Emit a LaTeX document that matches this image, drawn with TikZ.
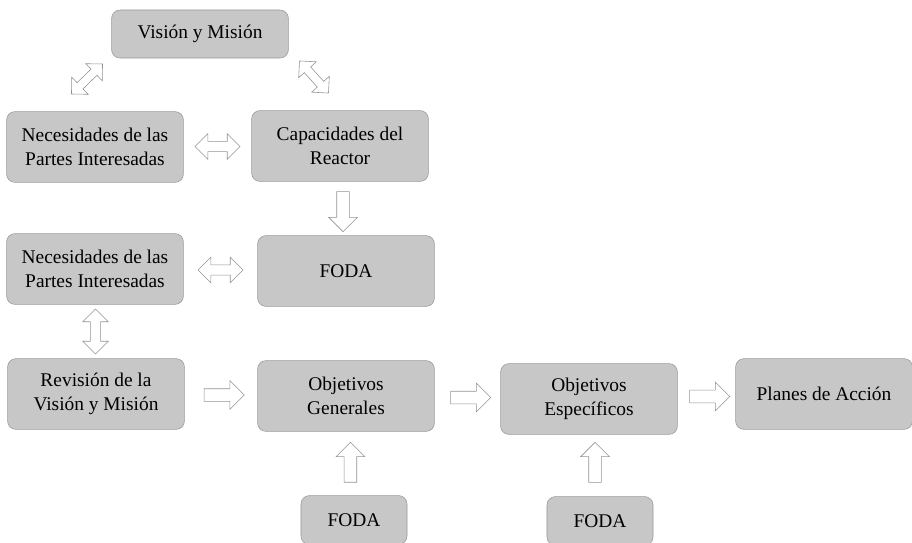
\documentclass[tikz,border=0pt]{standalone}
\usepackage{fontspec}
\setmainfont{Liberation Serif}
\usepackage{tikz}
\usetikzlibrary{shapes.arrows}
\tikzset{box/.style = {draw=gray!80, fill=gray!44, rounded corners=6pt, align=center,
                       minimum width=4.42cm, minimum height=1.77cm, inner sep=2pt,
                       font=\fontsize{13.8}{17}\selectfont},
         smallbox/.style = {box, minimum width=2.65cm, minimum height=1.22cm},
         sarrow/.style = {single arrow, draw=gray!85, fill=white, inner xsep=0pt,
                          inner ysep=0.15cm, single arrow head extend=0.2cm,
                          minimum height=1cm},
         darrow/.style = {double arrow, draw=gray!85, fill=white, inner xsep=0pt,
                          inner ysep=0.12cm, double arrow head extend=0.19cm,
                          minimum height=1.12cm}}

\begin{document}
\begin{tikzpicture}[x=0.025cm, y=-0.025cm]
    \useasboundingbox (0, 0) rectangle (912, 543);

    \node [box, minimum height=1.2cm] (vis) at (200, 34) {Visión y Misión};
    \node [box] (nec1) at (95, 147) {Necesidades de las\\Partes Interesadas};
    \node [box] (cap) at (340, 146) {Capacidades del\\Reactor};
    \node [box] (nec2) at (95, 269) {Necesidades de las\\Partes Interesadas};
    \node [box] (foda1) at (346, 271) {FODA};
    \node [box] (rev) at (96, 394) {Revisión de la\\Visión y Misión};
    \node [box] (objg) at (346, 396) {Objetivos\\Generales};
    \node [box] (obje) at (589, 399) {Objetivos\\Específicos};
    \node [box] (plan) at (824, 394) {Planes de Acción};
    \node [smallbox] (foda2) at (354, 520) {FODA};
    \node [smallbox] (foda3) at (600, 521) {FODA};

    \node [darrow, rotate=44, minimum height=1.08cm, inner ysep=0.1cm] (a1) at (87, 79) {};
    \node [darrow, rotate=-48, minimum height=1.08cm, inner ysep=0.1cm] (a2) at (314, 77) {};
    \path (nec1) -- node [darrow] (a3) {} (cap);
    \path (nec2) -- node [darrow] (a4) {} (foda1);
    \path (nec2) -- node [darrow, rotate=90] (a5) {} (rev);
    \path (cap) -- node [sarrow, rotate=-90] (a6) {} (foda1);
    \path (rev) -- node [sarrow] (a7) {} (objg);
    \path (objg) -- node [sarrow] (a8) {} (obje);
    \path (obje) -- node [sarrow] (a9) {} (plan);
    \path (foda2) -- node [sarrow, rotate=90, pos=0.47] (a10) {} (objg);
    \path (foda3) -- node [sarrow, rotate=90] (a11) {} (obje);
  \end{tikzpicture}
\end{document}
